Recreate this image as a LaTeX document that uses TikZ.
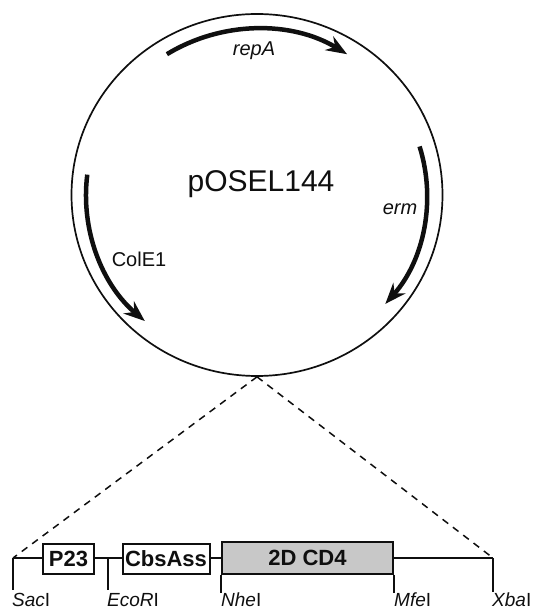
\documentclass[tikz,border=0pt]{standalone}
\usepackage{fontspec}
\setmainfont{Liberation Sans}
\usepackage{tikz}
\usetikzlibrary{arrows.meta,positioning,shapes.geometric,calc}
\definecolor{PLink}{RGB}{15,15,15}
\definecolor{PLgray}{RGB}{200,200,200}
\tikzset{
  ring/.style={ellipse,draw=PLink,line width=1.7pt,inner sep=0pt,
               minimum width=371pt,minimum height=362pt},
  gene/.style={line width=4.5pt,draw=PLink,-{Stealth[length=21pt,width=16pt,inset=7pt]}},
  genelab/.style={font=\fontsize{20}{23}\selectfont\itshape,text=PLink,inner sep=0pt,anchor=base},
  part/.style={draw=PLink,line width=2pt,fill=white,inner sep=0pt,minimum height=30pt,
               text=PLink,font=\fontsize{22}{25}\selectfont\bfseries},
  site/.style={font=\fontsize{19}{22}\selectfont,text=PLink,inner sep=0pt,anchor=base west},
  bb/.style={line width=2pt,draw=PLink},
  zoomline/.style={line width=1.5pt,draw=PLink,dash pattern=on 7pt off 6pt}
}

\begin{document}
\begin{tikzpicture}[x=1pt,y=1pt]
  \useasboundingbox (0,0) rectangle (536,610);
  % plasmid
  \node[ring] (plasmid) at (257,415) {};
  \node[font=\fontsize{30}{34}\selectfont,text=PLink,inner sep=0pt,anchor=base] (name) at (261,418) {pOSEL144};
  \draw[gene] ([shift={(122:170pt and 166pt)}]plasmid.center)
    arc[start angle=122,end angle=58,x radius=170pt,y radius=166pt];
  \draw[gene] ([shift={(17:170pt and 166pt)}]plasmid.center)
    arc[start angle=17,end angle=-41,x radius=170pt,y radius=166pt];
  \draw[gene] ([shift={(173:171pt and 167pt)}]plasmid.center)
    arc[start angle=173,end angle=229,x radius=171pt,y radius=167pt];
  \node[genelab] (repa) at (254,554) {repA};
  \node[genelab] (erm) at (400,395) {erm};
  \node[genelab,font=\fontsize{20}{23}\selectfont\upshape] (cole) at (139,343) {ColE1};

  % insert
  \coordinate (sac) at (13,52);
  \coordinate (eco) at (108,52);
  \coordinate (xba) at (493,52);
  \draw[bb] (sac) -- (xba);
  \node[part,minimum width=51pt] (p23) at (68.5,51) {P23};
  \node[part,minimum width=87pt] (cbs) at (166,51) {CbsAss};
  \node[part,minimum width=171pt,minimum height=32pt,fill=PLgray] (cd4) at (307.5,52) {2D CD4};
  \draw[bb] (sac) -- ++(0,-32) coordinate (sacend);
  \draw[bb] (eco) -- ++(0,-32) coordinate (ecoend);
  \draw[bb] (cd4.south west) -- ++(0,-18) coordinate (nheend);
  \draw[bb] (cd4.south east) -- ++(0,-18) coordinate (mfeend);
  \draw[bb] (xba) -- ++(0,-34) coordinate (xbaend);
  \node[site] (saclab) at (12,3) {\textit{Sac}I};
  \node[site] (ecolab) at (107,3) {\textit{EcoR}I};
  \node[site] (nhelab) at (221,3) {\textit{Nhe}I};
  \node[site] (mfelab) at (394,3) {\textit{Mfe}I};
  \node[site] (xbalab) at (492,3) {\textit{Xba}I};

  % zoom lines
  \draw[zoomline] (plasmid.south) -- (sac);
  \draw[zoomline] (plasmid.south) -- (xba);
\end{tikzpicture}
\end{document}
